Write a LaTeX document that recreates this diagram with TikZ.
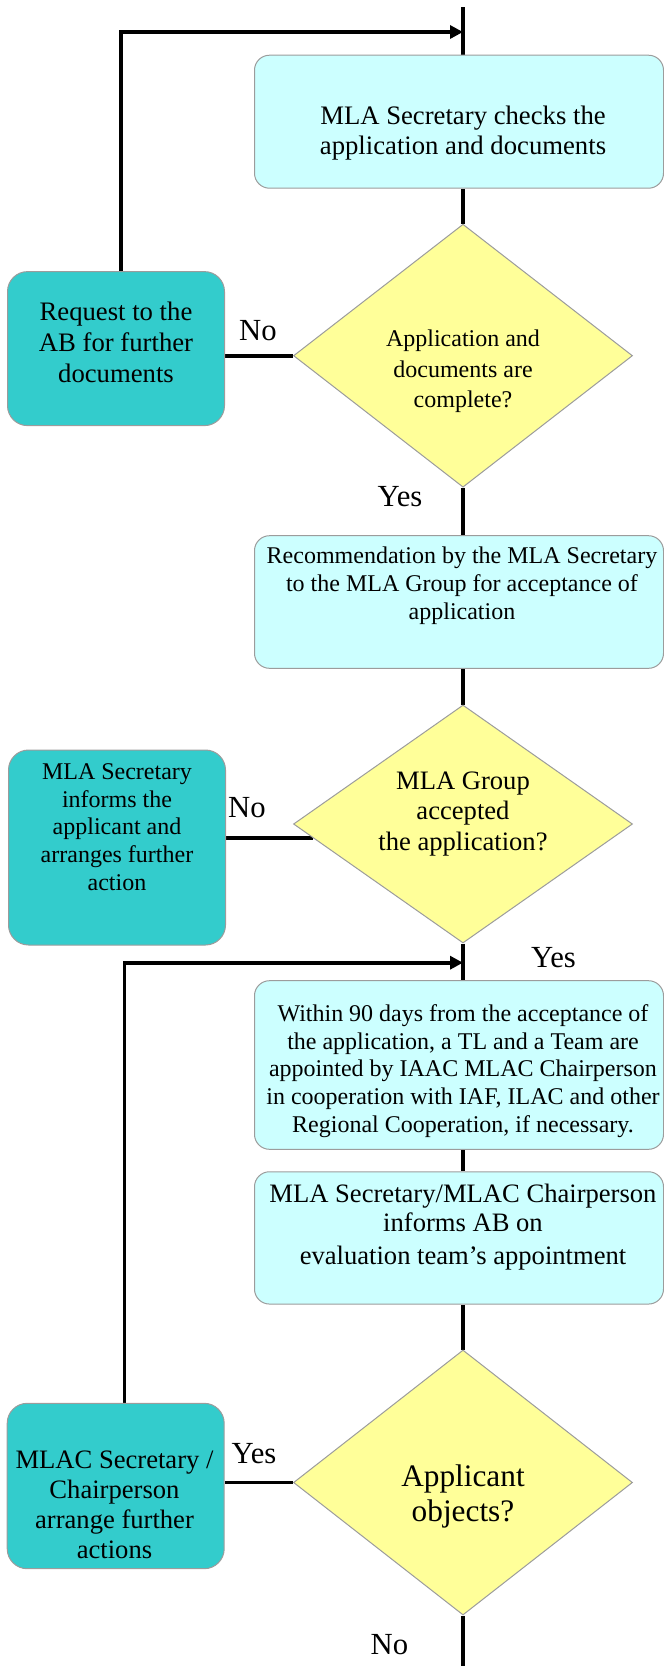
\documentclass[tikz,border=0pt]{standalone}
\usepackage{fontspec}
\setmainfont{Liberation Serif}
\usetikzlibrary{shapes.geometric,arrows.meta,calc}
\definecolor{cyanfill}{HTML}{CCFFFF}
\definecolor{tealfill}{HTML}{33CCCC}
\definecolor{yellowfill}{HTML}{FFFF99}
\definecolor{edgegray}{HTML}{9C9C9C}
\newcommand\flowtext[4]{\parbox[t]{#1}{\centering\fontsize{#2}{#3}\selectfont #4}}
\pgfdeclarelayer{bg}
\pgfsetlayers{bg,main}
\begin{document}
\begin{tikzpicture}[x=1pt,y=-1pt,
  flow/.style={line width=3.6pt,draw=black},
  arrowflow/.style={flow,-{Triangle[length=13pt,width=13pt]}},
  cbox/.style={draw=edgegray,line width=1pt,fill=cyanfill,rounded corners=15pt,inner sep=0pt,minimum width=409pt},
  tbox/.style={draw=edgegray,line width=1pt,fill=tealfill,rounded corners=20pt,inner sep=0pt,minimum width=217pt},
  dec/.style={diamond,draw=edgegray,line width=1pt,fill=yellowfill,inner sep=0pt,minimum width=339pt},
  txt/.style={anchor=base,inner sep=0pt},
  lbl/.style={anchor=base,inner sep=0pt,font=\fontsize{30.7}{34}\selectfont}
]
\useasboundingbox (0,0) rectangle (664,1666);
\clip (0,0) rectangle (664,1666);

% boxes
\node[cbox,minimum height=133pt] (b1) at (459,121.7) {};
\node[tbox,minimum height=154pt] (req) at (116,348.6) {};
\node[dec,minimum height=263pt] (d1) at (463,355.7) {};
\node[cbox,minimum height=132.6pt] (b2) at (459,602) {};
\node[tbox,minimum height=195pt] (inf) at (117,847.5) {};
\node[dec,minimum height=238pt] (d2) at (463,824) {};
\node[cbox,minimum height=168.6pt] (b3) at (459,1065) {};
\node[cbox,minimum height=132.3pt] (b4) at (459,1237.9) {};
\node[tbox,minimum height=165.4pt] (mlac) at (115.7,1486) {};
\node[dec,minimum height=265pt] (d3) at (463,1482.5) {};

% texts
\node[txt] (t1) at (463,124) {\flowtext{420pt}{26.7}{30}{MLA Secretary checks the\\application and documents}};
\node[txt] (treq) at (116,320) {\flowtext{230pt}{26.7}{31}{Request to the\\AB for further\\documents}};
\node[txt] (td1) at (463,346.5) {\flowtext{300pt}{24}{30.5}{Application and\\documents are\\complete?}};
\node[txt] (t2) at (462,563.7) {\flowtext{420pt}{24}{28}{Recommendation by the MLA Secretary\\to the MLA Group for acceptance of\\application}};
\node[txt] (td2) at (463,789) {\flowtext{300pt}{26.6}{30.5}{MLA Group\\accepted\\the application?}};
\node[txt] (tinf) at (117,779.3) {\flowtext{230pt}{24}{27.8}{MLA Secretary\\informs the\\applicant and\\arranges further\\action}};
\node[txt] (t3) at (463,1021.5) {\flowtext{420pt}{24}{27.7}{Within 90 days from the acceptance of\\the application, a TL and a Team are\\appointed by IAAC MLAC Chairperson\\in cooperation with IAF, ILAC and other\\Regional Cooperation, if necessary.}};
\node[txt] (t4) at (463,1202) {\flowtext{420pt}{26.6}{29.3}{MLA Secretary/MLAC Chairperson\\informs AB on\\[4pt]evaluation team’s appointment}};
\node[txt] (td3) at (463,1486) {\flowtext{300pt}{31.3}{35.5}{Applicant\\objects?}};
\node[txt] (tmlac) at (114.5,1468) {\flowtext{230pt}{26.6}{30.3}{MLAC Secretary /\\Chairperson\\arrange further\\actions}};

% branch labels
\node[lbl] (no1) at (258,340) {No};
\node[lbl] (yes1) at (400,506) {Yes};
\node[lbl] (no2) at (247,817.5) {No};
\node[lbl] (yes2) at (553.5,967) {Yes};
\node[lbl] (yes3) at (254,1463.3) {Yes};
\node[lbl] (no3) at (389.5,1654) {No};

% free ends
\coordinate (top) at (463,7);
\coordinate (bot) at (463,1672);
\coordinate (j1) at (463,32);
\coordinate (j2) at (463,962.7);
\coordinate (d2in) at ($(d2.west)!0.115!(d2.south)$);

\begin{pgfonlayer}{bg}
\draw[flow] (top) -- (top |- b1.north);
\draw[flow] (d1.north |- b1.south) -- (d1.north);
\draw[flow] (d1.south) -- (d1.south |- b2.north);
\draw[flow] (d2.north |- b2.south) -- (d2.north);
\draw[flow] (d2.south) -- (d2.south |- b3.north);
\draw[flow] (j2 |- b3.south) -- (j2 |- b4.north);
\draw[flow] (d3.north |- b4.south) -- (d3.north);
\draw[flow] (d3.south) -- (bot);
\draw[flow] (d1.west) -- (d1.west -| req.east);
\draw[flow] (d2in) -- (d2in -| inf.east);
\draw[flow] (d3.west) -- (d3.west -| mlac.east);
\draw[arrowflow] ([xshift=4.7pt]req.north) |- (j1);
\draw[arrowflow] ([xshift=8.6pt]mlac.north) |- (j2);
\end{pgfonlayer}
\end{tikzpicture}
\end{document}
